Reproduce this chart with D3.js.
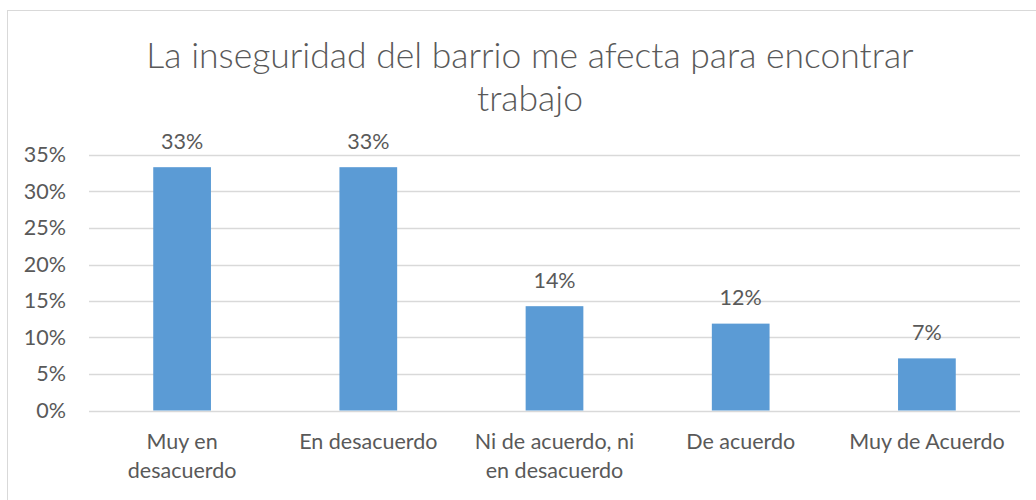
<!DOCTYPE html>
<html>
<head>
<meta charset="utf-8">
<script src="https://cdn.jsdelivr.net/npm/d3@7"></script>
<style>
  body { margin: 0; background: #fff; }
  text { font-family: Lato, "Open Sans", sans-serif; fill: #595959; }
</style>
</head>
<body>
<svg class="chart" width="1036" height="500"></svg>
<script>
// chart data
var titleLines = ['La inseguridad del barrio me afecta para encontrar', 'trabajo'];
var categories = ['Muy en desacuerdo', 'En desacuerdo', 'Ni de acuerdo, ni en desacuerdo', 'De acuerdo', 'Muy de Acuerdo'];
var categoryLines = [['Muy en', 'desacuerdo'], ['En desacuerdo'], ['Ni de acuerdo, ni', 'en desacuerdo'], ['De acuerdo'], ['Muy de Acuerdo']];
var values = [0.3333, 0.3333, 0.1429, 0.1190, 0.0714];
var yTicks = [0, 0.05, 0.10, 0.15, 0.20, 0.25, 0.30, 0.35];

var svg = d3.select('.chart');
var fontSize = 21.5;

// outer chart frame
svg.append('rect')
  .attr('x', 7.5)
  .attr('y', 10.5)
  .attr('width', 1040)
  .attr('height', 500)
  .attr('fill', 'none')
  .attr('stroke', '#d9d9d9');

var x = d3.scaleBand()
  .domain(categories)
  .range([89, 1020])
  .paddingInner(0.69)
  .paddingOuter(0.345);

var y = d3.scaleLinear()
  .domain([0, 0.35])
  .range([410.5, 155]);

// gridlines
svg.append('g')
  .attr('class', 'grid')
  .selectAll('line')
  .data(yTicks)
  .enter().append('line')
  .attr('x1', 89)
  .attr('x2', 1020)
  .attr('y1', function(d) { return Math.round(y(d)) + 0.5; })
  .attr('y2', function(d) { return Math.round(y(d)) + 0.5; })
  .attr('stroke', '#d9d9d9')
  .attr('stroke-width', 1.3);

// y axis labels
var yAxis = d3.axisLeft(y)
  .tickValues(yTicks)
  .tickFormat(d3.format('.0%'))
  .tickSize(0)
  .tickPadding(0);

var yg = svg.append('g')
  .attr('transform', 'translate(' + [66, 0] + ')')
  .call(yAxis);
yg.select('.domain').remove();
yg.selectAll('text')
  .attr('font-size', fontSize)
  .attr('fill', '#595959')
  .style('font-family', 'Lato, sans-serif');

// bars
svg.append('g')
  .selectAll('rect')
  .data(values)
  .enter().append('rect')
  .attr('x', function(d, i) { return x(categories[i]); })
  .attr('y', function(d) { return y(d); })
  .attr('width', x.bandwidth())
  .attr('height', function(d) { return y(0) - y(d); })
  .attr('fill', '#5b9bd5');

// data labels
svg.append('g')
  .selectAll('text')
  .data(values)
  .enter().append('text')
  .attr('x', function(d, i) { return x(categories[i]) + x.bandwidth() / 2; })
  .attr('y', function(d) { return y(d) - 18.5; })
  .attr('text-anchor', 'middle')
  .attr('font-size', fontSize)
  .text(function(d) { return d3.format('.0%')(d); });

// category labels
var cat = svg.append('g')
  .selectAll('text')
  .data(categories)
  .enter().append('text')
  .attr('text-anchor', 'middle')
  .attr('font-size', fontSize)
  .attr('transform', function(d) {
    return 'translate(' + [x(d) + x.bandwidth() / 2, 449] + ')';
  });

cat.selectAll('tspan')
  .data(function(d, i) { return categoryLines[i]; })
  .enter().append('tspan')
  .attr('x', 0)
  .attr('y', function(d, i) { return i * 29; })
  .text(function(d) { return d; });

// title
svg.append('g')
  .selectAll('text')
  .data(titleLines)
  .enter().append('text')
  .attr('x', 530)
  .attr('y', function(d, i) { return 68 + i * 43; })
  .attr('text-anchor', 'middle')
  .attr('font-size', 35.5)
  .attr('font-weight', 300)
  .text(function(d) { return d; });
</script>
</body>
</html>
